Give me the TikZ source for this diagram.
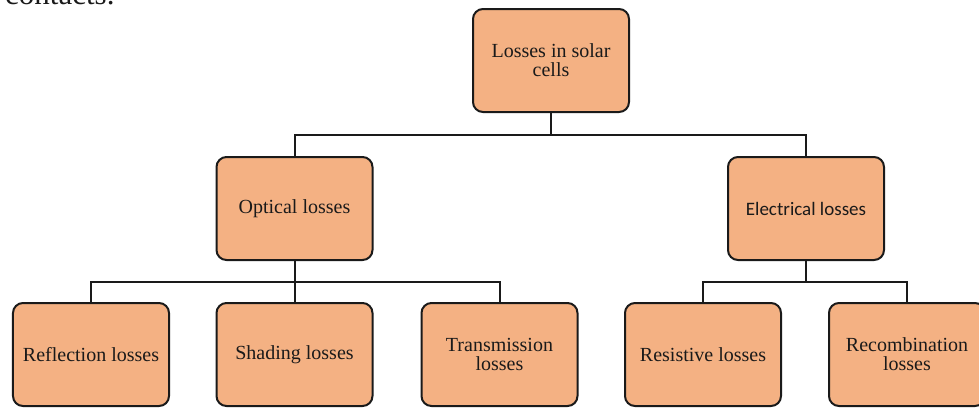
\documentclass[tikz,border=0pt]{standalone}
\usepackage{fontspec}
\setmainfont{Liberation Serif}
\newfontfamily\calibrifont{Carlito}
\definecolor{boxfill}{HTML}{F4B183}
\definecolor{inkc}{HTML}{1A1A1A}
\tikzset{
  lossbox/.style={draw=inkc, fill=boxfill, line width=2bp, rounded corners=10bp,
    minimum width=156bp, minimum height=103bp, align=center, text=inkc,
    font=\fontsize{20bp}{19bp}\selectfont, inner sep=0pt},
  sansbox/.style={lossbox, font=\calibrifont\fontsize{19bp}{21bp}\selectfont},
  conn/.style={draw=inkc, line width=2bp}
}
\begin{document}
\begin{tikzpicture}[x=1bp, y=-1bp]
\useasboundingbox (0,0) rectangle (979,407);
\begin{scope}
\clip (0,0) rectangle (979,407);
\node[anchor=base west, inner sep=0pt, font=\fontsize{31bp}{31bp}\selectfont, text=inkc] (top) at (5,4.5) {contacts.};
\node[lossbox] (root) at (551,60.5) {Losses in solar\\cells};
\node[lossbox] (opt) at (294.5,208.5) {Optical losses};
\node[sansbox] (ele) at (806,208.5) {Electrical losses};
\node[lossbox] (refl) at (91,354.5) {Reflection losses};
\node[lossbox] (shad) at (294.5,354.5) {Shading losses};
\node[lossbox] (trans) at (499.5,354.5) {Transmission\\losses};
\node[lossbox] (resi) at (703,354.5) {Resistive losses};
\node[lossbox] (reco) at (907,354.5) {Recombination\\losses};
\coordinate (bus1) at (0,135);
\coordinate (bus2) at (0,282);
\draw[conn] (root.south) -- (root.south |- bus1) -| (opt.north);
\draw[conn] (root.south |- bus1) -| (ele.north);
\draw[conn] (opt.south) -- (opt.south |- bus2) -| (refl.north);
\draw[conn] (opt.south |- bus2) -- (shad.north);
\draw[conn] (opt.south |- bus2) -| (trans.north);
\draw[conn] (ele.south) -- (ele.south |- bus2) -| (resi.north);
\draw[conn] (ele.south |- bus2) -| (reco.north);
\end{scope}
\end{tikzpicture}
\end{document}
